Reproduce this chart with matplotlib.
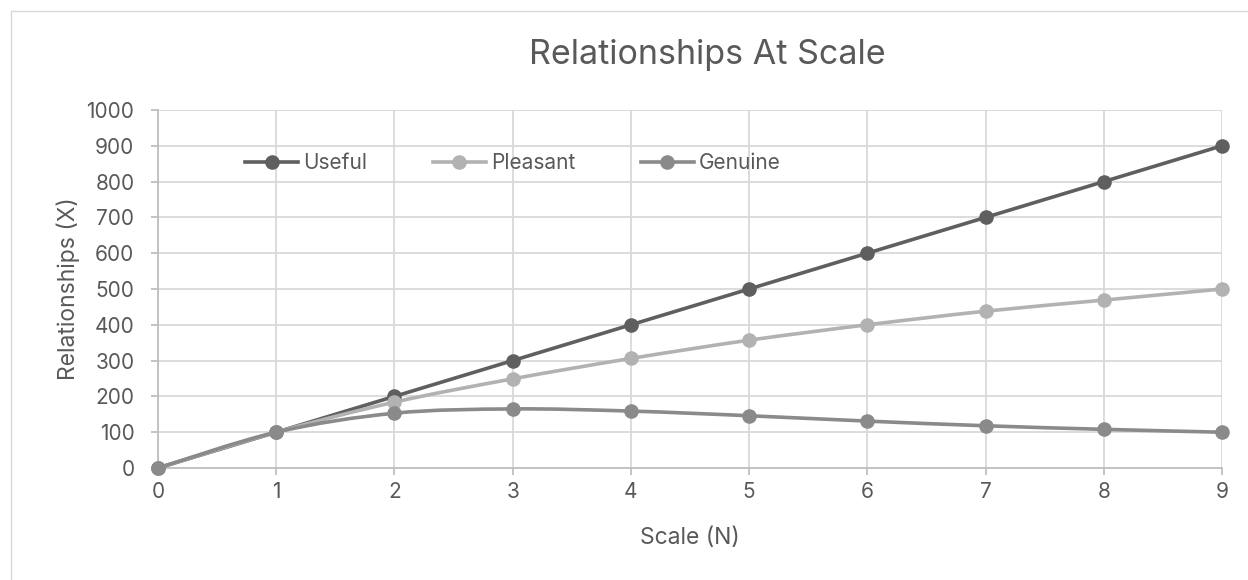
import matplotlib
matplotlib.use("Agg")
import matplotlib.pyplot as plt
from matplotlib.path import Path
from matplotlib.patches import PathPatch, Rectangle
from matplotlib.lines import Line2D

plt.rcParams['font.family'] = ['Inter', 'DejaVu Sans']

scale_n = [0, 1, 2, 3, 4, 5, 6, 7, 8, 9]
useful = [0, 100, 200, 300, 400, 500, 600, 700, 800, 900]
pleasant = [0, 100, 184, 249, 306, 357, 400, 438, 469, 500]
genuine = [0, 100, 153, 165, 159, 146, 131, 118, 108, 100]
series_names = ["Useful", "Pleasant", "Genuine"]
colors = ["#5f5f5f", "#b2b2b2", "#8a8a8a"]
y_ticks = [0, 100, 200, 300, 400, 500, 600, 700, 800, 900, 1000]

TXT = "#595959"

fig = plt.figure(figsize=(12.48, 5.8), dpi=100)
fig.patches.append(Rectangle((11/1248, -0.1), 1.2, 1 - 11/580 + 0.1, transform=fig.transFigure,
                             fill=False, edgecolor="#d9d9d9", linewidth=1.0, zorder=0))
ax = fig.add_axes([158/1248, 1 - 468/580, (1222 - 158)/1248, (468 - 110)/580])


def smooth_path(xs, ys):
    pts = list(zip(xs, ys))
    verts = [pts[0]]
    codes = [Path.MOVETO]
    n = len(pts)
    for i in range(n - 1):
        p0 = pts[i - 1] if i > 0 else pts[i]
        p1 = pts[i]
        p2 = pts[i + 1]
        p3 = pts[i + 2] if i + 2 < n else pts[i + 1]
        c1 = (p1[0] + (p2[0] - p0[0]) / 6, p1[1] + (p2[1] - p0[1]) / 6)
        c2 = (p2[0] - (p3[0] - p1[0]) / 6, p2[1] - (p3[1] - p1[1]) / 6)
        verts += [c1, c2, p2]
        codes += [Path.CURVE4] * 3
    return Path(verts, codes)


handles = []
for name, vals, c in zip(series_names, [useful, pleasant, genuine], colors):
    patch = PathPatch(smooth_path(scale_n, vals), facecolor="none", edgecolor=c,
                      linewidth=2.6, transform=ax.transData, zorder=3, capstyle="round",
                      joinstyle="round")
    ax.add_patch(patch)
    ax.plot(scale_n, vals, linestyle="none", marker="o", markersize=10.5, color=c,
            markeredgewidth=0, zorder=4, clip_on=False)
    handles.append(Line2D([], [], color=c, linewidth=2.6, marker="o", markersize=10.5,
                          markeredgewidth=0))

ax.set_xlim(0, 9)
ax.set_ylim(0, 1000)
ax.set_xticks(scale_n)
ax.set_yticks(y_ticks)
ax.grid(True, color="#d9d9d9", linewidth=1.3)
ax.set_axisbelow(True)
for s in ["top", "right"]:
    ax.spines[s].set_visible(False)
for s in ["left", "bottom"]:
    ax.spines[s].set_color("#bfbfbf")
    ax.spines[s].set_linewidth(1.3)
ax.tick_params(axis="both", colors="#bfbfbf", labelcolor=TXT, labelsize=15,
               length=5, width=1.3, direction="out")
ax.tick_params(axis="x", pad=5)
ax.tick_params(axis="y", pad=12)

fig.text(707/1248, 1 - 55/580, "Relationships At Scale", ha="center", va="center",
         fontsize=24.5, color=TXT)
fig.text(690/1248, 1 - 538/580, "Scale (N)", ha="center", va="center", fontsize=16.5, color=TXT)
fig.text(68/1248, 1 - 289/580, "Relationships (X)", ha="center", va="center", fontsize=16.5,
         color=TXT, rotation=90)

leg = fig.legend(handles, series_names, loc="center left", ncol=3,
                 bbox_to_anchor=(245/1248, 1 - 163/580), frameon=False,
                 fontsize=15, handlelength=2.55, handletextpad=0.24, columnspacing=3.15,
                 borderaxespad=0, borderpad=0)
for t in leg.get_texts():
    t.set_color(TXT)

fig.savefig("out.png", dpi=100)
